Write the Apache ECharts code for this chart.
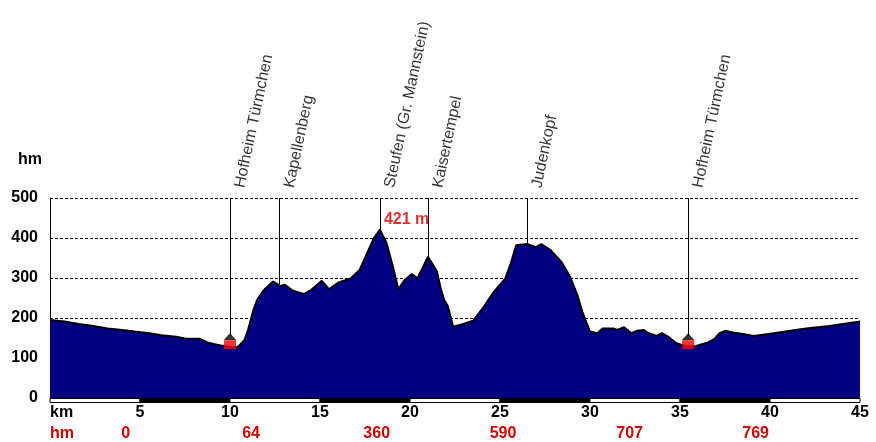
<!DOCTYPE html>
<html>
<head>
<meta charset="utf-8">
<script src="https://cdn.jsdelivr.net/npm/echarts@6/dist/echarts.min.js"></script>
<style>html,body{margin:0;padding:0;background:#fff}#c{width:876px;height:442px}</style>
</head>
<body>
<div id="c"></div>
<script>
// distance (km) and elevation (m) of the profile
var kmValues = [0, 0.8, 1.6, 2.4, 3.2, 4.0, 4.7, 5.5, 6.2, 7.0, 7.5, 8.0, 8.3, 8.6, 8.8, 9.2, 9.5, 10.0, 10.3, 10.5, 10.8, 11.0, 11.3, 11.5, 11.8, 12.0, 12.4, 12.8, 13.05, 13.5, 14.1, 14.5, 15.1, 15.5, 16.0, 16.7, 17.2, 17.7, 18.0, 18.33, 18.7, 19.1, 19.35, 19.7, 20.1, 20.4, 20.7, 21.0, 21.5, 21.7, 21.9, 22.1, 22.4, 22.96, 23.5, 24.1, 24.6, 25.3, 25.6, 25.9, 26.5, 27.0, 27.3, 27.8, 28.4, 28.9, 29.3, 29.6, 30.0, 30.4, 30.7, 31.3, 31.5, 31.9, 32.3, 32.6, 33.0, 33.2, 33.7, 34.0, 34.35, 34.8, 35.4, 35.9, 36.5, 36.9, 37.2, 37.5, 38.0, 38.5, 39.1, 40.2, 42.0, 43.3, 45.0];
var elevValues = [195, 191, 185, 180, 174, 170, 166, 162, 157, 153, 149, 148, 148, 142, 138, 134, 131, 128, 126, 130, 145, 170, 220, 245, 265, 275, 291, 280, 283, 268, 260, 270, 293, 272, 288, 299, 320, 370, 400, 421, 387, 320, 272, 295, 310, 299, 325, 353, 316, 275, 245, 230, 178, 185, 193, 228, 262, 299, 337, 382, 385, 377, 385, 370, 341, 303, 257, 212, 166, 162, 174, 174, 170, 177, 162, 168, 170, 163, 155, 162, 153, 137, 128, 130, 138, 147, 162, 168, 163, 160, 155, 162, 174, 180, 191];

// named points (line end = elevation at the point, or top of the house marker)
var poiNames = ['Hofheim Türmchen', 'Kapellenberg', 'Steufen (Gr. Mannstein)', 'Kaisertempel', 'Judenkopf', 'Hofheim Türmchen'];
var poiKm = [10, 12.75, 18.33, 21.0, 26.5, 35.45];
var poiElev = [155, 285, 421, 353, 385, 155];

// house markers
var houseKm = [10, 35.45];
var houseElev = [128, 128];

// summit label
var summitKm = 18.33;
var summitElev = 421;
var summitText = '421 m';

// cumulative ascent row
var ascentKm = [0, 4.2, 11.17, 18.15, 25.17, 32.2, 39.2];
var ascentLabels = ['hm', '0', '64', '360', '590', '707', '769'];

// axis ticks
var yTicks = [0, 100, 200, 300, 400, 500];
var xTickStep = 5;

// scale bar segments [start km, end km, dark?]
var scaleBar = [[0, 5, 0], [5, 10, 1], [10, 15, 0], [15, 20, 1], [20, 25, 0], [25, 30, 1], [30, 35, 0], [35, 40, 1], [40, 45, 0]];

var FONT = '"Liberation Sans", Arial, sans-serif';
var RED = '#cc0000';

var profile = kmValues.map(function (k, i) { return [k, elevValues[i]]; });
var poiLines = poiKm.map(function (k, i) {
  return [{ coord: [k, 500] }, { coord: [k, poiElev[i]] }];
});
var poiLabels = poiKm.map(function (k, i) { return [k, 500, poiNames[i]]; });
var houses = houseKm.map(function (k, i) { return [k, houseElev[i]]; });

var chart = echarts.init(document.getElementById('c'), null, { renderer: 'canvas' });
chart.setOption({
  animation: false,
  backgroundColor: '#fff',
  grid: { left: 50, right: 16, top: 198, bottom: 44 },
  graphic: [{
    type: 'text', left: 18, top: 152,
    style: { text: 'hm', font: 'bold 16px ' + FONT, fill: '#000' }
  }],
  xAxis: [{
    type: 'value', min: 0, max: 45, interval: xTickStep,
    axisLine: { show: false }, axisTick: { show: false }, splitLine: { show: false },
    axisLabel: {
      margin: 7, color: '#000', fontFamily: FONT, fontWeight: 'bold', fontSize: 16,
      alignMinLabel: 'left',
      formatter: function (v) { return v === 0 ? 'km' : String(v); }
    }
  }, {
    type: 'value', min: 0, max: 45, position: 'bottom', offset: 21,
    axisLine: { show: false }, axisTick: { show: false }, splitLine: { show: false },
    axisLabel: {
      margin: 7, color: RED, fontFamily: FONT, fontWeight: 'bold', fontSize: 16,
      alignMinLabel: 'left',
      customValues: ascentKm,
      formatter: function (v) {
        var i = ascentKm.indexOf(v);
        return i >= 0 ? ascentLabels[i] : '';
      }
    }
  }],
  yAxis: {
    type: 'value', min: yTicks[0], max: yTicks[yTicks.length - 1], interval: 100,
    axisLine: { show: true, lineStyle: { color: '#000', width: 1 } },
    axisTick: { show: false },
    axisLabel: { margin: 12, color: '#000', fontFamily: FONT, fontWeight: 'bold', fontSize: 16 },
    splitLine: { show: true, lineStyle: { color: '#000', width: 1, type: [3, 2] } }
  },
  series: [{
    type: 'line', data: profile, showSymbol: false, symbol: 'none',
    lineStyle: { color: '#000', width: 2 },
    areaStyle: { color: '#000080', opacity: 1 },
    z: 2,
    markLine: {
      silent: true, symbol: ['none', 'none'], animation: false,
      lineStyle: { color: '#000', width: 1, type: 'solid' },
      label: { show: false },
      data: poiLines
    }
  }, {
    type: 'scatter', data: poiLabels, symbolSize: 0, z: 5,
    label: {
      show: true, position: [2, -12], rotate: 78, align: 'left', verticalAlign: 'top',
      color: '#000', fontFamily: FONT, fontSize: 16,
      formatter: function (p) { return p.data[2]; }
    }
  }, {
    type: 'scatter', data: [[summitKm, summitElev]], symbolSize: 0, z: 5,
    label: {
      show: true, position: [4, -18], align: 'left', verticalAlign: 'top',
      color: RED, fontFamily: FONT, fontWeight: 'bold', fontSize: 16,
      formatter: summitText
    }
  }, {
    type: 'scatter', data: houses, symbol: 'triangle', symbolSize: [13, 7], symbolOffset: [0, -10],
    itemStyle: { color: '#000' }, z: 6
  }, {
    type: 'scatter', data: houses, symbol: 'rect', symbolSize: [12, 9], symbolOffset: [0, -2],
    itemStyle: { color: '#ff0000' }, z: 7
  }, {
    type: 'custom', data: scaleBar, clip: false, z: 7,
    renderItem: function (params, api) {
      var p1 = api.coord([api.value(0), 0]);
      var p2 = api.coord([api.value(1), 0]);
      return {
        type: 'rect',
        shape: { x: p1[0], y: p1[1] + 0.5, width: p2[0] - p1[0], height: 4 },
        style: { fill: api.value(2) ? '#000' : '#fff', stroke: '#000', lineWidth: 1 }
      };
    }
  }]
});
</script>
</body>
</html>
